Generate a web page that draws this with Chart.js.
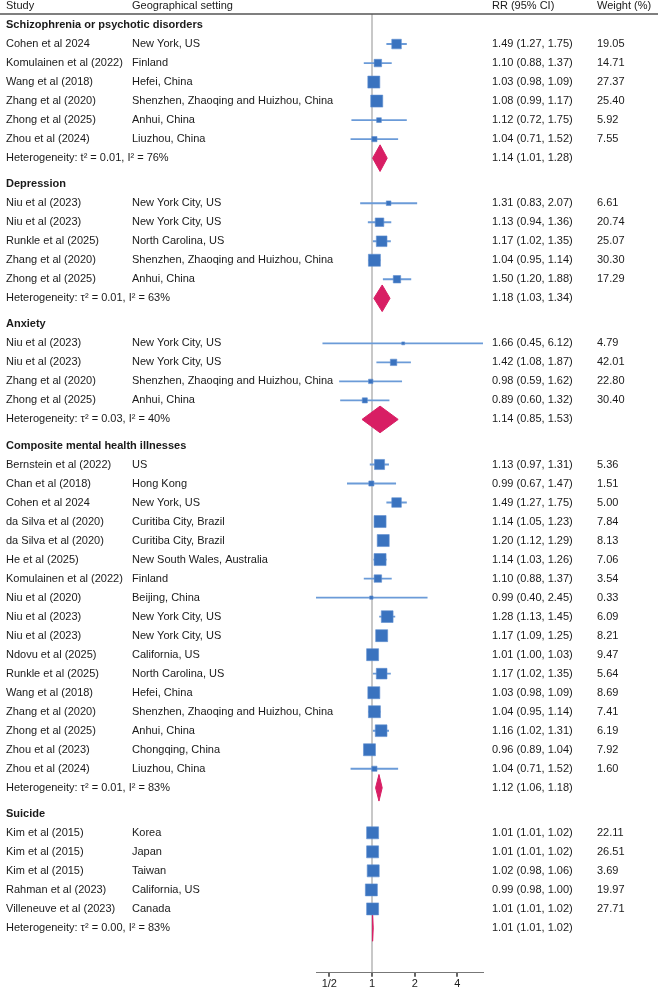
<!DOCTYPE html>
<html>
<head>
<meta charset="utf-8">
<script src="https://cdn.jsdelivr.net/npm/chart.js@4/dist/chart.umd.min.js"></script>
<style>
  html, body { margin: 0; padding: 0; background: #fff; }
</style>
</head>
<body>
<canvas id="forest" width="658" height="987"></canvas>
<script>
// data set
const groups = ['Schizophrenia or psychotic disorders', 'Depression', 'Anxiety',
  'Composite mental health illnesses', 'Suicide'];
const studyGroup = [0, 0, 0, 0, 0, 0,
  1, 1, 1, 1, 1,
  2, 2, 2, 2,
  3, 3, 3, 3, 3, 3, 3, 3, 3, 3, 3, 3, 3, 3, 3, 3, 3,
  4, 4, 4, 4, 4];
const studies = [
  'Cohen et al 2024', 'Komulainen et al (2022)', 'Wang et al (2018)', 'Zhang et al (2020)', 'Zhong et al (2025)', 'Zhou et al (2024)',
  'Niu et al (2023)', 'Niu et al (2023)', 'Runkle et al (2025)', 'Zhang et al (2020)', 'Zhong et al (2025)',
  'Niu et al (2023)', 'Niu et al (2023)', 'Zhang et al (2020)', 'Zhong et al (2025)',
  'Bernstein et al (2022)', 'Chan et al (2018)', 'Cohen et al 2024', 'da Silva et al (2020)', 'da Silva et al (2020)',
  'He et al (2025)', 'Komulainen et al (2022)', 'Niu et al (2020)', 'Niu et al (2023)', 'Niu et al (2023)',
  'Ndovu et al (2025)', 'Runkle et al (2025)', 'Wang et al (2018)', 'Zhang et al (2020)', 'Zhong et al (2025)',
  'Zhou et al (2023)', 'Zhou et al (2024)',
  'Kim et al (2015)', 'Kim et al (2015)', 'Kim et al (2015)', 'Rahman et al (2023)', 'Villeneuve et al (2023)'
];
const settings = [
  'New York, US', 'Finland', 'Hefei, China', 'Shenzhen, Zhaoqing and Huizhou, China', 'Anhui, China', 'Liuzhou, China',
  'New York City, US', 'New York City, US', 'North Carolina, US', 'Shenzhen, Zhaoqing and Huizhou, China', 'Anhui, China',
  'New York City, US', 'New York City, US', 'Shenzhen, Zhaoqing and Huizhou, China', 'Anhui, China',
  'US', 'Hong Kong', 'New York, US', 'Curitiba City, Brazil', 'Curitiba City, Brazil',
  'New South Wales, Australia', 'Finland', 'Beijing, China', 'New York City, US', 'New York City, US',
  'California, US', 'North Carolina, US', 'Hefei, China', 'Shenzhen, Zhaoqing and Huizhou, China', 'Anhui, China',
  'Chongqing, China', 'Liuzhou, China',
  'Korea', 'Japan', 'Taiwan', 'California, US', 'Canada'
];
const rr = [1.49, 1.10, 1.03, 1.08, 1.12, 1.04,
  1.31, 1.13, 1.17, 1.04, 1.50,
  1.66, 1.42, 0.98, 0.89,
  1.13, 0.99, 1.49, 1.14, 1.20, 1.14, 1.10, 0.99, 1.28, 1.17, 1.01, 1.17, 1.03, 1.04, 1.16, 0.96, 1.04,
  1.01, 1.01, 1.02, 0.99, 1.01];
const lower = [1.27, 0.88, 0.98, 0.99, 0.72, 0.71,
  0.83, 0.94, 1.02, 0.95, 1.20,
  0.45, 1.08, 0.59, 0.60,
  0.97, 0.67, 1.27, 1.05, 1.12, 1.03, 0.88, 0.40, 1.13, 1.09, 1.00, 1.02, 0.98, 0.95, 1.02, 0.89, 0.71,
  1.01, 1.01, 0.98, 0.98, 1.01];
const upper = [1.75, 1.37, 1.09, 1.17, 1.75, 1.52,
  2.07, 1.36, 1.35, 1.14, 1.88,
  6.12, 1.87, 1.62, 1.32,
  1.31, 1.47, 1.75, 1.23, 1.29, 1.26, 1.37, 2.45, 1.45, 1.25, 1.03, 1.35, 1.09, 1.14, 1.31, 1.04, 1.52,
  1.02, 1.02, 1.06, 1.00, 1.02];
const weights = ['19.05', '14.71', '27.37', '25.40', '5.92', '7.55',
  '6.61', '20.74', '25.07', '30.30', '17.29',
  '4.79', '42.01', '22.80', '30.40',
  '5.36', '1.51', '5.00', '7.84', '8.13', '7.06', '3.54', '0.33', '6.09', '8.21', '9.47', '5.64', '8.69', '7.41', '6.19', '7.92', '1.60',
  '22.11', '26.51', '3.69', '19.97', '27.71'];
const hetText = ['Heterogeneity: t\u00b2 = 0.01, I\u00b2 = 76%', 'Heterogeneity: \u03c4\u00b2 = 0.01, I\u00b2 = 63%',
  'Heterogeneity: \u03c4\u00b2 = 0.03, I\u00b2 = 40%', 'Heterogeneity: \u03c4\u00b2 = 0.01, I\u00b2 = 83%',
  'Heterogeneity: \u03c4\u00b2 = 0.00, I\u00b2 = 83%'];
const pooledRR = [1.14, 1.18, 1.14, 1.12, 1.01];
const pooledLo = [1.01, 1.03, 0.85, 1.06, 1.01];
const pooledHi = [1.28, 1.34, 1.53, 1.18, 1.02];
const xTicks = [0.5, 1, 2, 4];
const xTickLabels = ['1/2', '1', '2', '4'];

// colours
const boxColor = '#3a73bf';
const lineColor = '#6b9bd8';
const diamondColor = '#d81e64';
const textColor = '#1a1a1a';

// row layout (row units, top to bottom)
const GROUP_GAP = 0.37;
const headerPos = [];
const studyPos = [];
const hetPos = [];
let pos = 0;
groups.forEach((g, gi) => {
  headerPos.push(pos);
  pos++;
  studyGroup.forEach((sg, i) => {
    if (sg === gi) { studyPos[i] = pos; pos++; }
  });
  hetPos.push(pos);
  pos += 1 + GROUP_GAP;
});

const fmt = v => v.toFixed(2);
// box side from CI width (precision), capped
const boxSide = studies.map((s, i) => {
  const se = Math.log(upper[i] / lower[i]) / 3.92;
  return Math.min(12, 2 + 0.62 / se);
});

const datasets = [];
datasets.push({
  type: 'scatter',
  label: 'RR',
  data: studies.map((s, i) => ({ x: rr[i], y: studyPos[i] })),
  pointStyle: 'rect',
  pointRadius: boxSide.map(s => s / Math.SQRT2),
  pointHoverRadius: boxSide.map(s => s / Math.SQRT2),
  backgroundColor: boxColor,
  borderColor: '#5f8fd0',
  borderWidth: 0.6,
  order: 1
});
datasets.push({
  type: 'bar',
  label: '95% CI',
  indexAxis: 'y',
  data: studies.map((s, i) => ({ x: [lower[i], upper[i]], y: studyPos[i] })),
  backgroundColor: lineColor,
  barThickness: 1.2,
  borderWidth: 0,
  order: 2
});
groups.forEach((g, gi) => {
  const y = hetPos[gi];
  const h = 0.7;
  datasets.push({
    type: 'scatter',
    label: 'Pooled ' + g,
    data: [
      { x: pooledLo[gi], y: y },
      { x: pooledRR[gi], y: y - h },
      { x: pooledHi[gi], y: y },
      { x: pooledRR[gi], y: y + h },
      { x: pooledLo[gi], y: y }
    ],
    showLine: true,
    fill: 'shape',
    backgroundColor: diamondColor,
    borderColor: diamondColor,
    borderWidth: 1,
    pointRadius: 0,
    order: 1
  });
});

// text columns
const textPlugin = {
  id: 'forestText',
  afterDraw(chart) {
    const ctx = chart.ctx;
    const ys = chart.scales.y;
    const font = '11px "Liberation Sans", Arial, sans-serif';
    const bold = 'bold 11px "Liberation Sans", Arial, sans-serif';
    ctx.save();
    ctx.fillStyle = textColor;
    ctx.textBaseline = 'middle';
    ctx.textAlign = 'left';
    ctx.font = font;
    ctx.fillText('Study', 6, 6);
    ctx.fillText('Geographical setting', 132, 6);
    ctx.fillText('RR (95% CI)', 492, 6);
    ctx.fillText('Weight (%)', 597, 6);
    ctx.strokeStyle = '#555';
    ctx.lineWidth = 1.5;
    ctx.beginPath();
    ctx.moveTo(0, 14);
    ctx.lineTo(658, 14);
    ctx.stroke();

    groups.forEach((g, gi) => {
      ctx.font = bold;
      ctx.fillText(g, 6, ys.getPixelForValue(headerPos[gi]));
      ctx.font = font;
      const y = ys.getPixelForValue(hetPos[gi]);
      ctx.fillText(hetText[gi], 6, y);
      ctx.fillText(fmt(pooledRR[gi]) + ' (' + fmt(pooledLo[gi]) + ', ' + fmt(pooledHi[gi]) + ')', 492, y);
    });
    ctx.font = font;
    studies.forEach((s, i) => {
      const y = ys.getPixelForValue(studyPos[i]);
      ctx.fillText(s, 6, y);
      ctx.fillText(settings[i], 132, y);
      ctx.fillText(fmt(rr[i]) + ' (' + fmt(lower[i]) + ', ' + fmt(upper[i]) + ')', 492, y);
      ctx.fillText(weights[i], 597, y);
    });
    ctx.restore();
  }
};

Chart.defaults.font.family = '"Liberation Sans", Arial, sans-serif';
Chart.defaults.font.size = 11;
Chart.defaults.color = textColor;

new Chart('forest', {
  type: 'scatter',
  data: { datasets: datasets },
  options: {
    responsive: false,
    animation: false,
    events: [],
    layout: { padding: { left: 316, right: 175, top: 14, bottom: -5 } },
    plugins: {
      legend: { display: false },
      tooltip: { enabled: false }
    },
    scales: {
      x: {
        type: 'logarithmic',
        min: 0.403,
        max: 6.06,
        offset: false,
        afterBuildTicks: scale => {
          scale.ticks = xTicks.map(v => ({ value: v }));
        },
        ticks: {
          padding: 1,
          autoSkip: false,
          maxRotation: 0,
          callback: (v, i) => xTickLabels[i]
        },
        grid: {
          offset: false,
          color: c => (c.tick && c.tick.value === 1) ? '#c8c8c8' : 'rgba(0,0,0,0)',
          lineWidth: 2,
          tickColor: '#666',
          tickLength: 4
        },
        border: { color: '#777', width: 1 }
      },
      y: {
        type: 'linear',
        display: false,
        reverse: true,
        offset: false,
        grace: 0,
        min: -0.58,
        max: 49.84
      }
    }
  },
  plugins: [textPlugin]
});
</script>
</body>
</html>
